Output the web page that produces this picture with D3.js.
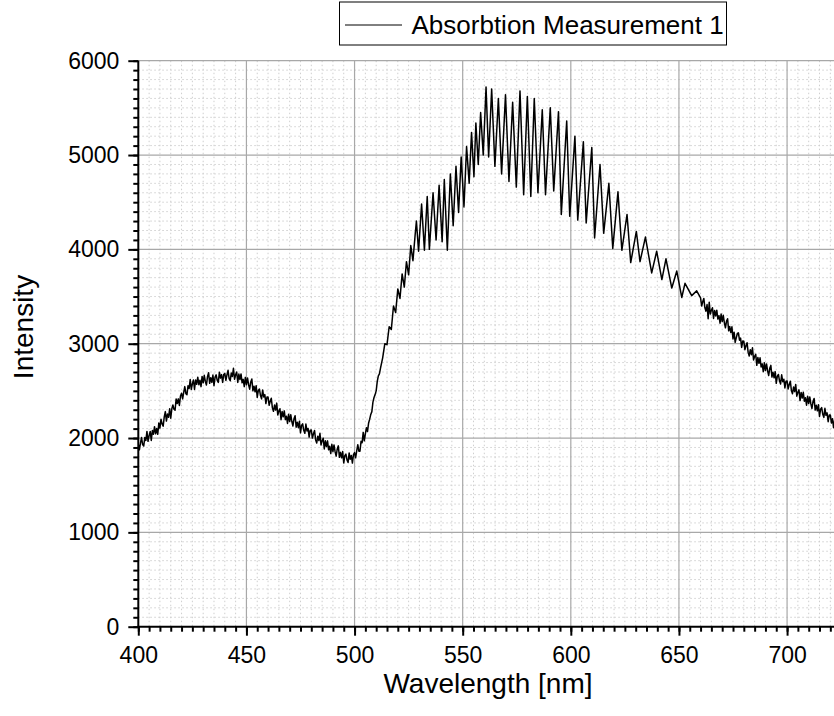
<!DOCTYPE html>
<html>
<head>
<meta charset="utf-8">
<script src="https://cdn.jsdelivr.net/npm/d3@7"></script>
<style>
  html, body { margin: 0; padding: 0; background: #fff; }
  svg { display: block; }
  text { font-family: "Liberation Sans", Arial, sans-serif; fill: #000; }
</style>
</head>
<body>
<svg id="chart" width="834" height="716"></svg>
<script>
// ---------------- data ----------------
const seriesName = "Absorbtion Measurement 1";
const xTickValues = [400, 450, 500, 550, 600, 650, 700];
const yTickValues = [0, 1000, 2000, 3000, 4000, 5000, 6000];
const xDomain = [400, 721.7];
const yDomain = [0, 6000];

// [wavelength nm, intensity]
const blueBand = [
  [400,1935],[400.5,1875],[401,1945],[401.5,2005],[402,1930],[402.5,1915],[403,2005],[403.5,1975],
  [404,2070],[404.5,1965],[405,2025],[405.5,2070],[406,1975],[406.5,2080],[407,2040],[407.5,2120],
  [408,2045],[408.5,2100],[409,2040],[409.5,2160],[410,2105],[410.5,2200],[411,2150],[411.5,2125],
  [412,2225],[412.5,2280],[413,2180],[413.5,2255],[414,2220],[414.5,2310],[415,2210],[415.5,2310],
  [416,2350],[416.5,2305],[417,2295],[417.5,2415],[418,2365],[418.5,2415],[419,2345],[419.5,2445],
  [420,2475],[420.5,2415],[421,2485],[421.5,2545],[422,2470],[422.5,2460],[423,2555],[423.5,2525],
  [424,2620],[424.5,2515],[425,2575],[425.5,2615],[426,2515],[426.5,2615],[427,2570],[427.5,2645],
  [428,2565],[428.5,2612],[429,2545],[429.5,2653],[430,2585],[430.5,2665],[431,2600],[431.5,2562],
  [432,2650],[432.5,2693],[433,2580],[433.5,2640],[434,2590],[434.5,2667],[435,2555],[435.5,2643],
  [436,2670],[436.5,2612],[437,2590],[437.5,2698],[438,2635],[438.5,2672],[439,2590],[439.5,2673],
  [440,2685],[440.5,2612],[441,2670],[441.5,2718],[442,2630],[442.5,2607],[443,2690],[443.5,2653],
  [444,2740],[444.5,2623],[445,2670],[445.5,2700],[446,2590],[446.5,2678],[447,2620],[447.5,2680],
  [448,2585],[448.5,2622],[449,2545],[449.5,2643],[450,2565],[450.5,2637],[451,2565],[451.5,2518],
  [452,2595],[452.5,2625],[453,2500],[453.5,2550],[454,2490],[454.5,2555],[455,2430],[455.5,2505],
  [456,2520],[456.5,2450],[457,2415],[457.5,2510],[458,2435],[458.5,2460],[459,2365],[459.5,2435],
  [460,2435],[460.5,2348],[461,2390],[461.5,2422],[462,2320],[462.5,2283],[463,2350],[463.5,2297],
  [464,2370],[464.5,2245],[465,2285],[465.5,2310],[466,2195],[466.5,2282],[467,2225],[467.5,2288],
  [468,2195],[468.5,2232],[469,2155],[469.5,2253],[470,2175],[470.5,2247],[471,2175],[471.5,2128],
  [472,2205],[472.5,2237],[473,2115],[473.5,2168],[474,2110],[474.5,2177],[475,2055],[475.5,2133],
  [476,2150],[476.5,2082],[477,2050],[477.5,2148],[478,2075],[478.5,2102],[479,2010],[479.5,2083],
  [480,2085],[480.5,2000],[481,2045],[481.5,2080],[482,1980],[482.5,1947],[483,2020],[483.5,1973],
  [484,2050],[484.5,1927],[485,1970],[485.5,1998],[486,1885],[486.5,1970],[487,1910],[487.5,1970],
  [488,1875],[488.5,1912],[489,1835],[489.5,1933],[490,1855],[490.5,1927],[491,1855],[491.5,1808],
  [492,1885],[492.5,1917],[493,1795],[493.5,1848],[494,1790],[494.5,1857],[495,1735],[495.5,1813],
  [496,1830],[496.5,1768],[497,1740],[497.5,1842],[498,1775],[498.5,1815],[499,1735],[499.5,1825],
  [500,1845],[500.5,1790],[501,1865],[501.5,1930],[502,1860],[502.5,1860],[503,1965],[503.5,1950],
  [504,2060],[504.5,1970],[505,2045],[505.5,2110],[506,2070],[506.5,2160],[507,2200],[507.5,2250],
  [508,2280],[508.5,2380],[509,2430],[509.5,2460],[510,2500],[510.5,2600],[511,2660],[511.5,2680],
  [512,2740]
];

const riseEdge = [
  [513,2850],[514,3000],[515,2990],[516,3180],[517,3150],[518,3400],[519,3330],[520,3580],
  [521,3480],[522,3740],[523,3600],[524,3870],[525,3730],[526,4040],[527,3880],[528,4150],
  [528.6,4300],[529.6,3980]
];

// interference fringes: alternating peak / trough
const fringes = [
  [531.0,4480],[532.3,3990],[533.6,4560],[534.6,4000],[536.3,4600],[537.7,4100],
  [539.1,4680],[540.5,4080],[541.5,4740],[542.9,3990],[544.3,4800],[545.6,4250],
  [546.9,4880],[548.1,4390],[549.3,4980],[550.6,4450],[551.8,5090],[553.0,4700],
  [554.1,5240],[555.2,4770],[556.1,5340],[557.2,4900],[558.3,5450],[559.5,5000],
  [560.8,5720],[562.0,4980],[563.4,5700],[564.9,4880],[566.5,5600],[568.0,4800],
  [569.8,5640],[571.4,4720],[573.1,5560],[574.8,4660],[576.5,5680],[578.2,4580],
  [579.9,5620],[581.5,4560],[583.1,5600],[584.8,4600],[586.8,5480],[588.3,4580],
  [590.5,5500],[592.1,4620],[594.3,5460],[595.6,4370],[598.1,5360],[599.5,4350],
  [601.9,5200],[603.2,4310],[605.8,5140],[607.1,4280],[609.7,5080],[611.0,4120],
  [613.5,4900],[615.2,4170],[617.6,4700],[619.4,4010],[621.8,4610],[623.6,3990],
  [626.0,4370],[627.7,3860],[630.3,4190],[632.0,3870],[634.5,4130],[637.4,3750],
  [639.7,3980],[642.1,3680],[644.0,3900],[646.7,3590],[649.0,3770],[651.3,3490],
  [652.8,3640],[655.9,3510],[658.2,3560]
];

const redTail = [
  [660,3485],[660.5,3400],[661,3445],[661.5,3480],[662,3380],[662.5,3345],[663,3415],[663.5,3265],
  [664,3440],[664.5,3315],[665,3355],[665.5,3381],[666,3267],[666.5,3353],[667,3294],[667.5,3355],
  [668,3261],[668.5,3297],[669,3218],[669.5,3314],[670,3235],[670.5,3301],[671,3222],[671.5,3168],
  [672,3239],[672.5,3265],[673,3136],[673.5,3182],[674,3118],[674.5,3179],[675,3050],[675.5,3122],
  [676,3014],[676.5,3061],[677,3108],[677.5,3115],[678,3037],[678.5,3059],[679,2961],[679.5,3028],
  [680,3025],[680.5,2937],[681,2979],[681.5,3011],[682,2908],[682.5,2870],[683,2937],[683.5,2884],
  [684,2956],[684.5,2828],[685,2865],[685.5,2888],[686,2771],[686.5,2854],[687,2792],[687.5,2850],
  [688,2753],[688.5,2786],[689,2704],[689.5,2797],[690,2715],[690.5,2786],[691,2712],[691.5,2663],
  [692,2739],[692.5,2770],[693,2646],[693.5,2697],[694,2638],[694.5,2704],[695,2580],[695.5,2657],
  [696,2674],[696.5,2606],[697,2573],[697.5,2670],[698,2597],[698.5,2624],[699,2531],[699.5,2603],
  [700,2605],[700.5,2521],[701,2567],[701.5,2603],[702,2504],[702.5,2470],[703,2541],[703.5,2492],
  [704,2568],[704.5,2444],[705,2485],[705.5,2511],[706,2397],[706.5,2483],[707,2424],[707.5,2485],
  [708,2391],[708.5,2427],[709,2348],[709.5,2444],[710,2365],[710.5,2436],[711,2362],[711.5,2313],
  [712,2389],[712.5,2420],[713,2296],[713.5,2347],[714,2288],[714.5,2354],[715,2230],[715.5,2306],
  [716,2322],[716.5,2253],[717,2219],[717.5,2315],[718,2241],[718.5,2267],[719,2173],[719.5,2244],
  [720,2245],[720.5,2160],[721,2205],[721.5,2110],[722,2190]
];

const spectrum = [].concat(blueBand, riseEdge, fringes, redTail);

// ---------------- layout ----------------
const svg = d3.select("#chart");
const plotLeft = 138.3, plotRight = 834, plotTop = 60.7, plotBottom = 626.7;

const x = d3.scaleLinear().domain(xDomain).range([plotLeft, plotRight]);
const y = d3.scaleLinear().domain(yDomain).range([plotBottom, plotTop]);

const xMinor = d3.range(xDomain[0], xDomain[1] + 0.001, 5);
const yMinor = d3.range(yDomain[0], yDomain[1] + 0.001, 100);

// minor grid (dotted)
const grid = svg.append("g");
grid.selectAll("line.xminor").data(xMinor.filter(v => v % 50 !== 0)).join("line")
  .attr("x1", d => x(d)).attr("x2", d => x(d))
  .attr("y1", plotTop).attr("y2", plotBottom)
  .attr("stroke", "#cfcfcf").attr("stroke-width", 1).attr("stroke-dasharray", "1.5,2.5");
grid.selectAll("line.yminor").data(yMinor.filter(v => v % 1000 !== 0)).join("line")
  .attr("x1", plotLeft).attr("x2", plotRight)
  .attr("y1", d => y(d)).attr("y2", d => y(d))
  .attr("stroke", "#cfcfcf").attr("stroke-width", 1).attr("stroke-dasharray", "1.5,2.5");
// major grid
grid.selectAll("line.xmajor").data(xTickValues.filter(v => v > xDomain[0])).join("line")
  .attr("x1", d => x(d)).attr("x2", d => x(d))
  .attr("y1", plotTop).attr("y2", plotBottom)
  .attr("stroke", "#a8a8a8").attr("stroke-width", 1.2);
grid.selectAll("line.ymajor").data(yTickValues.filter(v => v > yDomain[0])).join("line")
  .attr("x1", plotLeft).attr("x2", plotRight)
  .attr("y1", d => y(d)).attr("y2", d => y(d))
  .attr("stroke", "#a8a8a8").attr("stroke-width", 1.2);

// data line
svg.append("clipPath").attr("id", "clip").append("rect")
  .attr("x", plotLeft).attr("y", plotTop - 2).attr("width", plotRight - plotLeft).attr("height", plotBottom - plotTop + 2);
const line = d3.line().x(d => x(d[0])).y(d => y(d[1]));
svg.append("path").datum(spectrum)
  .attr("clip-path", "url(#clip)")
  .attr("d", line)
  .attr("fill", "none").attr("stroke", "#000").attr("stroke-width", 1.5)
  .attr("stroke-linejoin", "round");

// axes
const xAxisMinor = d3.axisBottom(x).tickValues(xMinor).tickSize(5).tickFormat("");
const xAxisMajor = d3.axisBottom(x).tickValues(xTickValues).tickSize(9).tickPadding(11).tickFormat(d3.format("d"));
const yAxisMinor = d3.axisLeft(y).tickValues(yMinor).tickSize(5).tickFormat("");
const yAxisMajor = d3.axisLeft(y).tickValues(yTickValues).tickSize(10).tickPadding(9).tickFormat(d3.format("d"));

function styleAxis(g) {
  g.select(".domain").remove();
  g.selectAll(".tick line").attr("stroke", "#000").attr("stroke-width", 2);
  g.selectAll(".tick text").style("font-family", '"Liberation Sans", Arial, sans-serif')
    .style("font-size", "23px").attr("fill", "#000");
}
svg.append("g").attr("transform", `translate(0,${plotBottom})`).call(xAxisMinor).call(styleAxis);
svg.append("g").attr("transform", `translate(0,${plotBottom})`).call(xAxisMajor).call(styleAxis);
svg.append("g").attr("transform", `translate(${plotLeft},0)`).call(yAxisMinor).call(styleAxis);
svg.append("g").attr("transform", `translate(${plotLeft},0)`).call(yAxisMajor).call(styleAxis);

// axis lines
svg.append("line").attr("x1", plotLeft - 1).attr("x2", plotRight).attr("y1", plotBottom).attr("y2", plotBottom)
  .attr("stroke", "#000").attr("stroke-width", 2);
svg.append("line").attr("x1", plotLeft).attr("x2", plotLeft).attr("y1", plotTop).attr("y2", plotBottom + 1)
  .attr("stroke", "#000").attr("stroke-width", 2);

// axis titles
svg.append("text").attr("x", 488).attr("y", 693).attr("text-anchor", "middle")
  .style("font-size", "28px").text("Wavelength [nm]");
svg.append("text").attr("transform", "translate(33,327) rotate(-90)").attr("text-anchor", "middle")
  .style("font-size", "28px").text("Intensity");

// legend
const lg = svg.append("g");
lg.append("rect").attr("x", 339.5).attr("y", 2).attr("width", 387).attr("height", 43)
  .attr("fill", "#fff").attr("stroke", "#000").attr("stroke-width", 1);
lg.append("line").attr("x1", 345).attr("x2", 402).attr("y1", 25).attr("y2", 25)
  .attr("stroke", "#000").attr("stroke-width", 1);
lg.append("text").attr("x", 411.5).attr("y", 34).style("font-size", "26px").text(seriesName);
</script>
</body>
</html>
